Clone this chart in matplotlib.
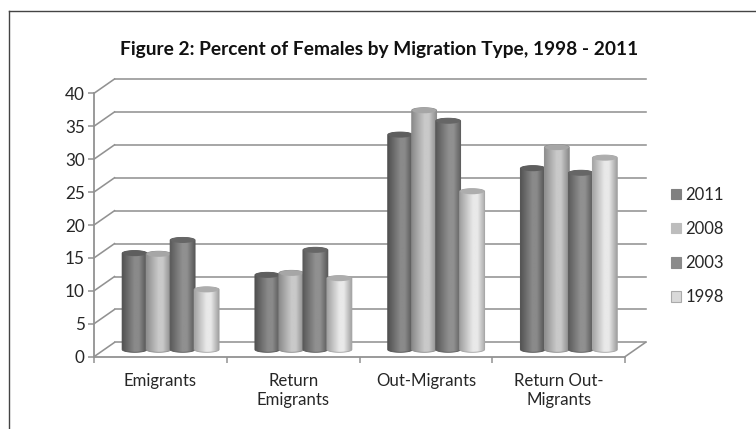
import numpy as np
import matplotlib
matplotlib.use("Agg")
import matplotlib.pyplot as plt
from matplotlib.lines import Line2D
from matplotlib.patches import Ellipse, Patch, Polygon
from matplotlib.colors import LinearSegmentedColormap

categories = ["Emigrants", "Return\nEmigrants", "Out-Migrants", "Return Out-\nMigrants"]
series_names = ["2011", "2008", "2003", "1998"]
values_2011 = [14.6, 11.3, 32.6, 27.5]
values_2008 = [14.5, 11.6, 36.3, 30.7]
values_2003 = [16.6, 15.1, 34.7, 26.8]
values_1998 = [9.1, 10.8, 24.0, 29.1]
y_ticks = [0, 5, 10, 15, 20, 25, 30, 35, 40]

all_values = [values_2011, values_2008, values_2003, values_1998]
edge_shades = ["#525252", "#8c8c8c", "#5a5a5a", "#a2a2a2"]
mid_shades = ["#8a8a8a", "#c9c9c9", "#909090", "#e9e9e9"]
cap_shades = ["#5e5e5e", "#a6a6a6", "#666666", "#adadad"]
legend_shades = ["#808080", "#bdbdbd", "#8a8a8a", "#d9d9d9"]

W, H = 756, 429
plt.rcParams["font.family"] = ["Lato", "DejaVu Sans"]
fig = plt.figure(figsize=(W / 100, H / 100), dpi=100, facecolor="white")

L, R, B, T = 94, 646, 356.7, 79
ax = fig.add_axes([L / W, 1 - B / H, (R - L) / W, (B - T) / H])
px_x = 132.75            # pixels per category
px_y = 263.4 / 40        # pixels per unit
depth_x, depth_y = 20.5 / px_x, 14.3 / px_y
ax.set_xlim(0, (R - L) / px_x)
ax.set_ylim(0, (B - T) / px_y)
ax.patch.set_alpha(0)

axis_c = "#929292"
for t in y_ticks:
    ax.plot([depth_x, ax.get_xlim()[1]], [t + depth_y] * 2, color=axis_c, lw=1.15, zorder=1, clip_on=False)
    ax.plot([0, depth_x], [t, t + depth_y], color=axis_c, lw=1.15, zorder=1, clip_on=False)
ax.plot([4, 4 + depth_x], [0, depth_y], color=axis_c, lw=1.15, zorder=1, clip_on=False)

for s in ("top", "right"):
    ax.spines[s].set_visible(False)
for s in ("left", "bottom"):
    ax.spines[s].set_color(axis_c)
    ax.spines[s].set_linewidth(1.3)
ax.spines["left"].set_bounds(0, 40)
ax.spines["bottom"].set_bounds(0, 4)

ax.set_yticks(y_ticks)
ax.set_xticks(range(5))
ax.set_xticklabels([])
ax.set_xticks(np.arange(4) + 0.5, categories, minor=True)
ax.tick_params(axis="y", length=4.2, width=1.1, color=axis_c, labelsize=12.3, pad=2.5, labelcolor="#262626")
ax.tick_params(axis="x", which="major", length=4, width=1.1, color=axis_c)
ax.tick_params(axis="x", which="minor", length=0, labelsize=12.1, pad=11.8, labelcolor="#262626")
for lab in ax.get_xticklabels(minor=True):
    lab.set_linespacing(1.22)

bar_w = 25 / px_x
step = 24 / px_x
base = 7.2 / px_y
cap_h = 5.6 / px_y
theta = np.linspace(0, np.pi, 40)
for si, vals in enumerate(all_values):
    cmap = LinearSegmentedColormap.from_list(
        "c", [(0, edge_shades[si]), (0.5, mid_shades[si]), (0.68, mid_shades[si]), (1, edge_shades[si])])
    grad = np.linspace(0, 1, 64).reshape(1, -1)
    for ci, v in enumerate(vals):
        cx = ci + 0.5 + depth_x / 2 + (si - 1.5) * step
        z = 3 + si * 0.1 + ci * 0.01
        bars = ax.bar(cx, v, width=bar_w, bottom=base, color=mid_shades[si], zorder=z, linewidth=0)
        outline = np.r_[
            np.c_[cx + bar_w / 2 * np.cos(theta), base - cap_h / 2 * np.sin(theta)],
            np.c_[cx - bar_w / 2 * np.cos(theta), base + v + cap_h / 2 * np.sin(theta)],
        ]
        body = Polygon(outline, closed=True, facecolor="none",
                       edgecolor=edge_shades[si], lw=0.6, zorder=z + 0.002)
        ax.add_patch(body)
        im = ax.imshow(grad, extent=[cx - bar_w / 2, cx + bar_w / 2, base - cap_h, base + v + cap_h],
                       aspect="auto", cmap=cmap, vmin=0, vmax=1, zorder=z + 0.001,
                       interpolation="bilinear")
        im.set_clip_path(body)
        ax.add_patch(Ellipse((cx, base + v), bar_w * 0.96, cap_h, facecolor=cap_shades[si],
                             edgecolor="none", zorder=z + 0.003))
ax.set_xlim(0, (R - L) / px_x)
ax.set_ylim(0, (B - T) / px_y)

fig.text(379.5 / W, 1 - 49 / H, "Figure 2: Percent of Females by Migration Type, 1998 - 2011",
         ha="center", va="center", fontsize=13.8, fontweight="bold", color="#111111")

handles = [Patch(facecolor=c, edgecolor="#aaaaaa" if i == 3 else c, linewidth=0.8)
           for i, c in enumerate(legend_shades)]
fig.legend(handles, series_names, loc="center left", bbox_to_anchor=(671 / W, 1 - 246 / H),
           frameon=False, fontsize=12, labelspacing=1.09, handlelength=0.6, handleheight=0.6,
           handletextpad=0.25, borderpad=0, borderaxespad=0, labelcolor="#262626")

frame_c = "#444444"
fig.add_artist(Line2D([8.5 / W, 8.5 / W], [0, 1 - 10.5 / H], color=frame_c, lw=1.0, transform=fig.transFigure))
fig.add_artist(Line2D([8.5 / W, 1], [1 - 10.5 / H, 1 - 10.5 / H], color=frame_c, lw=1.0, transform=fig.transFigure))

fig.savefig("out.png", dpi=100, facecolor="white")
